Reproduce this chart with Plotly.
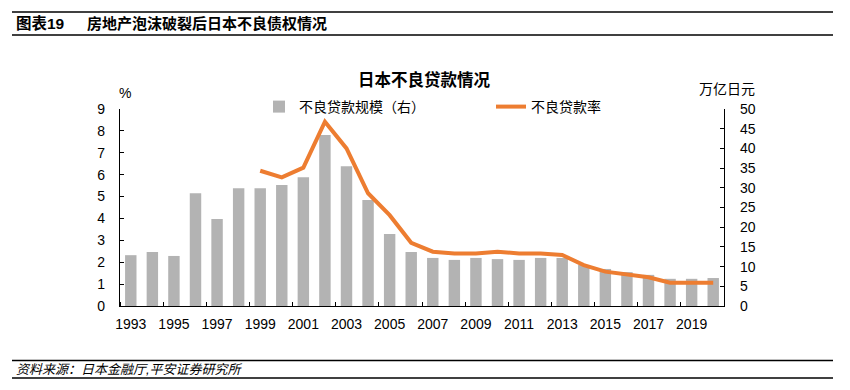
import plotly.graph_objects as go

years = list(range(1993, 2021))
npl_amount = [12.9, 13.7, 12.7, 28.6, 22.1, 29.9, 29.9, 30.7, 32.7, 43.4, 35.5, 26.9, 18.3,
              13.7, 12.2, 11.7, 12.2, 11.9, 11.7, 12.2, 12.2, 10.4, 9.4, 8.6, 7.9, 6.9, 6.9, 7.1]
rate_years = list(range(1999, 2021))
npl_rate = [6.18, 5.88, 6.32, 8.42, 7.2, 5.15, 4.15, 2.89, 2.48, 2.4, 2.4, 2.48, 2.4, 2.4,
            2.33, 1.87, 1.57, 1.46, 1.31, 1.06, 1.06, 1.06]
label_years = [1993, 1995, 1997, 1999, 2001, 2003, 2005, 2007, 2009, 2011, 2013, 2015, 2017, 2019]

SW, SH = 850, 390          # screen size
OFF = 8                    # page body margin
W, H = SW - OFF, SH - OFF  # figure size
L, R, T, B = 120, 724, 109, 306   # plot area in screen pixels

def px(x):
    return (x - L) / (R - L)

def py(y):
    return (B - y) / (B - T)

FONT = "Liberation Sans, Arial, Noto Sans CJK SC, sans-serif"
GRAY = "#B3B3B3"
ORANGE = "#ED7D31"

fig = go.Figure()
fig.add_trace(go.Bar(x=years, y=npl_amount, name="不良贷款规模（右）", marker_color=GRAY,
                     marker_line_width=0, yaxis="y", legend="legend"))
fig.add_trace(go.Scatter(x=rate_years, y=npl_rate, name="不良贷款率", mode="lines",
                         line=dict(color=ORANGE, width=4), yaxis="y2", legend="legend2"))

fig.update_layout(
    width=W, height=H,
    margin=dict(l=L - OFF, r=SW - R, t=T - OFF, b=SH - B, autoexpand=False),
    paper_bgcolor="white", plot_bgcolor="white",
    font=dict(family=FONT, size=14, color="black"),
    bargap=0.47,
    showlegend=True,
    xaxis=dict(range=[1992.5, 2020.5], tickmode="array", tickvals=label_years,
               ticks="", showline=True, linecolor="black", linewidth=1.3,
               showgrid=False, zeroline=False, tickfont=dict(size=14),
               ticklabelstandoff=5,
               minor=dict(tickmode="linear", tick0=1992.5, dtick=2, ticks="inside",
                          ticklen=4, tickcolor="black", showgrid=False)),
    yaxis=dict(side="right", range=[0, 50], dtick=5, ticks="inside", ticklen=4,
               tickcolor="black", showline=True, linecolor="black", linewidth=1.3,
               showgrid=False, zeroline=False, ticklabelstandoff=12,
               tickfont=dict(size=14)),
    yaxis2=dict(side="left", overlaying="y", range=[0, 9], dtick=1, ticks="inside",
                ticklen=4, tickcolor="black", showline=True, linecolor="black",
                linewidth=1.3, showgrid=False, zeroline=False, ticklabelstandoff=11,
                tickfont=dict(size=14)),
    legend=dict(x=px(259), y=py(107), xanchor="left", yanchor="middle",
                orientation="h", font=dict(size=14), bgcolor="rgba(0,0,0,0)",
                itemwidth=30),
    legend2=dict(x=px(491), y=py(107), xanchor="left", yanchor="middle",
                 orientation="h", font=dict(size=14), bgcolor="rgba(0,0,0,0)",
                 itemwidth=30),
)

annos = [
    dict(text="<b>图表19</b>", x=px(14), y=py(24), xanchor="left", yanchor="middle",
         font=dict(size=15.5)),
    dict(text="<b>房地产泡沫破裂后日本不良债权情况</b>", x=px(85), y=py(24), xanchor="left",
         yanchor="middle", font=dict(size=15)),
    dict(text="<b>日本不良贷款情况</b>", x=px(424), y=py(80), xanchor="center",
         yanchor="middle", font=dict(size=16.5)),
    dict(text="%", x=px(125), y=py(93), xanchor="center", yanchor="middle",
         font=dict(size=14)),
    dict(text="万亿日元", x=px(697), y=py(89), xanchor="left", yanchor="middle",
         font=dict(size=14)),
    dict(text="<i>资料来源：日本金融厅,平安证券研究所</i>", x=px(14), y=py(369),
         xanchor="left", yanchor="middle", font=dict(size=13)),
]
for a in annos:
    a.update(xref="paper", yref="paper", showarrow=False)
fig.update_layout(annotations=annos)

shapes = []
for yline in (12, 35, 360.5, 378):
    shapes.append(dict(type="line", xref="paper", yref="paper", x0=px(12), x1=px(833),
                       y0=py(yline), y1=py(yline), line=dict(color="black", width=1.5)))
fig.update_layout(shapes=shapes)

fig.write_html("out.html")
